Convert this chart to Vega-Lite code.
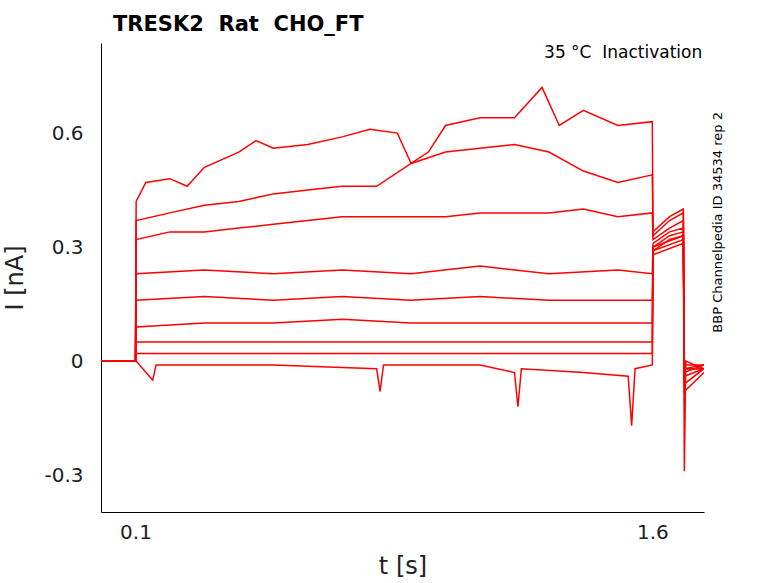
{
  "$schema": "https://vega.github.io/schema/vega-lite/v6.json",
  "width": 603,
  "height": 469,
  "autosize": "none",
  "padding": {"left": 101, "top": 43, "right": 74, "bottom": 71},
  "config": {"font": "DejaVu Sans", "view": {"stroke": null}},
  "title": {"text": "TRESK2\u00a0 Rat\u00a0 CHO_FT", "anchor": "start", "frame": "group", "fontSize": 21, "fontWeight": "bold", "offset": 8, "dx": 12, "color": "black"},
  "data": {"values": [
    {"trace": "a", "t": 0, "i": 0.0}, {"trace": "a", "t": 0.1, "i": 0.0}, {"trace": "a", "t": 0.102, "i": 0.42}, {"trace": "a", "t": 0.13, "i": 0.47}, {"trace": "a", "t": 0.2, "i": 0.48}, {"trace": "a", "t": 0.25, "i": 0.46}, {"trace": "a", "t": 0.3, "i": 0.51}, {"trace": "a", "t": 0.4, "i": 0.55}, {"trace": "a", "t": 0.45, "i": 0.58}, {"trace": "a", "t": 0.5, "i": 0.56}, {"trace": "a", "t": 0.6, "i": 0.57}, {"trace": "a", "t": 0.7, "i": 0.59}, {"trace": "a", "t": 0.78, "i": 0.61}, {"trace": "a", "t": 0.86, "i": 0.6}, {"trace": "a", "t": 0.9, "i": 0.52}, {"trace": "a", "t": 0.95, "i": 0.55}, {"trace": "a", "t": 1.0, "i": 0.62}, {"trace": "a", "t": 1.1, "i": 0.64}, {"trace": "a", "t": 1.2, "i": 0.64}, {"trace": "a", "t": 1.28, "i": 0.72}, {"trace": "a", "t": 1.33, "i": 0.62}, {"trace": "a", "t": 1.4, "i": 0.66}, {"trace": "a", "t": 1.5, "i": 0.62}, {"trace": "a", "t": 1.6, "i": 0.63}, {"trace": "a", "t": 1.602, "i": 0.34}, {"trace": "a", "t": 1.65, "i": 0.38}, {"trace": "a", "t": 1.69, "i": 0.4}, {"trace": "a", "t": 1.693, "i": -0.02}, {"trace": "a", "t": 1.75, "i": -0.02},
    {"trace": "b", "t": 0, "i": 0.0}, {"trace": "b", "t": 0.1, "i": 0.0}, {"trace": "b", "t": 0.102, "i": 0.37}, {"trace": "b", "t": 0.2, "i": 0.39}, {"trace": "b", "t": 0.3, "i": 0.41}, {"trace": "b", "t": 0.4, "i": 0.42}, {"trace": "b", "t": 0.5, "i": 0.44}, {"trace": "b", "t": 0.6, "i": 0.45}, {"trace": "b", "t": 0.7, "i": 0.46}, {"trace": "b", "t": 0.8, "i": 0.46}, {"trace": "b", "t": 0.9, "i": 0.52}, {"trace": "b", "t": 1.0, "i": 0.55}, {"trace": "b", "t": 1.1, "i": 0.56}, {"trace": "b", "t": 1.2, "i": 0.57}, {"trace": "b", "t": 1.3, "i": 0.55}, {"trace": "b", "t": 1.4, "i": 0.5}, {"trace": "b", "t": 1.5, "i": 0.47}, {"trace": "b", "t": 1.6, "i": 0.49}, {"trace": "b", "t": 1.602, "i": 0.33}, {"trace": "b", "t": 1.65, "i": 0.37}, {"trace": "b", "t": 1.69, "i": 0.39}, {"trace": "b", "t": 1.693, "i": -0.01}, {"trace": "b", "t": 1.75, "i": -0.01},
    {"trace": "c", "t": 0, "i": 0.0}, {"trace": "c", "t": 0.1, "i": 0.0}, {"trace": "c", "t": 0.102, "i": 0.32}, {"trace": "c", "t": 0.2, "i": 0.34}, {"trace": "c", "t": 0.3, "i": 0.34}, {"trace": "c", "t": 0.4, "i": 0.35}, {"trace": "c", "t": 0.5, "i": 0.36}, {"trace": "c", "t": 0.6, "i": 0.37}, {"trace": "c", "t": 0.7, "i": 0.38}, {"trace": "c", "t": 0.8, "i": 0.38}, {"trace": "c", "t": 0.9, "i": 0.38}, {"trace": "c", "t": 1.0, "i": 0.38}, {"trace": "c", "t": 1.1, "i": 0.39}, {"trace": "c", "t": 1.2, "i": 0.39}, {"trace": "c", "t": 1.3, "i": 0.39}, {"trace": "c", "t": 1.4, "i": 0.4}, {"trace": "c", "t": 1.5, "i": 0.38}, {"trace": "c", "t": 1.6, "i": 0.39}, {"trace": "c", "t": 1.602, "i": 0.32}, {"trace": "c", "t": 1.65, "i": 0.35}, {"trace": "c", "t": 1.69, "i": 0.37}, {"trace": "c", "t": 1.693, "i": -0.29}, {"trace": "c", "t": 1.697, "i": 0.0}, {"trace": "c", "t": 1.75, "i": -0.02},
    {"trace": "d", "t": 0, "i": 0.0}, {"trace": "d", "t": 0.1, "i": 0.0}, {"trace": "d", "t": 0.102, "i": 0.23}, {"trace": "d", "t": 0.3, "i": 0.24}, {"trace": "d", "t": 0.5, "i": 0.23}, {"trace": "d", "t": 0.7, "i": 0.24}, {"trace": "d", "t": 0.9, "i": 0.23}, {"trace": "d", "t": 1.1, "i": 0.25}, {"trace": "d", "t": 1.3, "i": 0.23}, {"trace": "d", "t": 1.5, "i": 0.24}, {"trace": "d", "t": 1.6, "i": 0.23}, {"trace": "d", "t": 1.602, "i": 0.31}, {"trace": "d", "t": 1.65, "i": 0.34}, {"trace": "d", "t": 1.69, "i": 0.35}, {"trace": "d", "t": 1.693, "i": -0.06}, {"trace": "d", "t": 1.75, "i": -0.02},
    {"trace": "e", "t": 0, "i": 0.0}, {"trace": "e", "t": 0.1, "i": 0.0}, {"trace": "e", "t": 0.102, "i": 0.16}, {"trace": "e", "t": 0.3, "i": 0.17}, {"trace": "e", "t": 0.5, "i": 0.16}, {"trace": "e", "t": 0.7, "i": 0.17}, {"trace": "e", "t": 0.9, "i": 0.16}, {"trace": "e", "t": 1.1, "i": 0.17}, {"trace": "e", "t": 1.3, "i": 0.16}, {"trace": "e", "t": 1.5, "i": 0.16}, {"trace": "e", "t": 1.6, "i": 0.16}, {"trace": "e", "t": 1.602, "i": 0.3}, {"trace": "e", "t": 1.65, "i": 0.33}, {"trace": "e", "t": 1.69, "i": 0.34}, {"trace": "e", "t": 1.693, "i": -0.03}, {"trace": "e", "t": 1.75, "i": -0.01},
    {"trace": "f", "t": 0, "i": 0.0}, {"trace": "f", "t": 0.1, "i": 0.0}, {"trace": "f", "t": 0.102, "i": 0.09}, {"trace": "f", "t": 0.3, "i": 0.1}, {"trace": "f", "t": 0.5, "i": 0.1}, {"trace": "f", "t": 0.7, "i": 0.11}, {"trace": "f", "t": 0.9, "i": 0.1}, {"trace": "f", "t": 1.1, "i": 0.1}, {"trace": "f", "t": 1.3, "i": 0.1}, {"trace": "f", "t": 1.5, "i": 0.1}, {"trace": "f", "t": 1.6, "i": 0.1}, {"trace": "f", "t": 1.602, "i": 0.29}, {"trace": "f", "t": 1.65, "i": 0.32}, {"trace": "f", "t": 1.69, "i": 0.33}, {"trace": "f", "t": 1.693, "i": -0.02}, {"trace": "f", "t": 1.75, "i": -0.02},
    {"trace": "g", "t": 0, "i": 0.0}, {"trace": "g", "t": 0.1, "i": 0.0}, {"trace": "g", "t": 0.102, "i": 0.05}, {"trace": "g", "t": 0.5, "i": 0.05}, {"trace": "g", "t": 1.0, "i": 0.05}, {"trace": "g", "t": 1.6, "i": 0.05}, {"trace": "g", "t": 1.602, "i": 0.3}, {"trace": "g", "t": 1.69, "i": 0.33}, {"trace": "g", "t": 1.693, "i": -0.02}, {"trace": "g", "t": 1.75, "i": -0.01},
    {"trace": "h", "t": 0, "i": 0.0}, {"trace": "h", "t": 0.1, "i": 0.0}, {"trace": "h", "t": 0.102, "i": 0.02}, {"trace": "h", "t": 0.5, "i": 0.02}, {"trace": "h", "t": 1.0, "i": 0.02}, {"trace": "h", "t": 1.6, "i": 0.02}, {"trace": "h", "t": 1.602, "i": 0.29}, {"trace": "h", "t": 1.69, "i": 0.32}, {"trace": "h", "t": 1.693, "i": -0.04}, {"trace": "h", "t": 1.75, "i": -0.02},
    {"trace": "k", "t": 0, "i": 0.0}, {"trace": "k", "t": 0.1, "i": 0.0}, {"trace": "k", "t": 0.102, "i": 0.0}, {"trace": "k", "t": 0.15, "i": -0.05}, {"trace": "k", "t": 0.16, "i": -0.01}, {"trace": "k", "t": 0.5, "i": -0.01}, {"trace": "k", "t": 0.8, "i": -0.02}, {"trace": "k", "t": 0.81, "i": -0.08}, {"trace": "k", "t": 0.82, "i": -0.01}, {"trace": "k", "t": 1.1, "i": -0.01}, {"trace": "k", "t": 1.2, "i": -0.03}, {"trace": "k", "t": 1.21, "i": -0.12}, {"trace": "k", "t": 1.22, "i": -0.02}, {"trace": "k", "t": 1.4, "i": -0.03}, {"trace": "k", "t": 1.53, "i": -0.04}, {"trace": "k", "t": 1.54, "i": -0.17}, {"trace": "k", "t": 1.55, "i": -0.02}, {"trace": "k", "t": 1.6, "i": -0.01}, {"trace": "k", "t": 1.602, "i": 0.28}, {"trace": "k", "t": 1.69, "i": 0.31}, {"trace": "k", "t": 1.693, "i": -0.08}, {"trace": "k", "t": 1.75, "i": -0.03}
  ]},
  "layer": [
    {
      "mark": {"type": "line", "color": "#ff0000", "strokeWidth": 1.5, "clip": true},
      "encoding": {
        "x": {"field": "t", "type": "quantitative", "scale": {"domain": [0, 1.75], "nice": false, "zero": false},
          "axis": {"values": [0.1, 1.6], "title": "t [s]", "grid": false, "labelFontSize": 20, "titleFontSize": 24, "titleFontWeight": "normal", "tickSize": 0, "labelPadding": 10, "titlePadding": 12, "domainColor": "black", "labelColor": "#222", "titleColor": "#222"}},
        "y": {"field": "i", "type": "quantitative", "scale": {"domain": [-0.397, 0.837], "nice": false, "zero": false},
          "axis": {"values": [-0.3, 0, 0.3, 0.6], "labelExpr": "replace(format(datum.value, '~g'), '−', '-')", "title": "I [nA]", "grid": false, "labelFontSize": 20, "titleFontSize": 24, "titleFontWeight": "normal", "tickSize": 0, "labelPadding": 18, "titlePadding": 16, "domainColor": "black", "labelColor": "#222", "titleColor": "#222"}},
        "detail": {"field": "trace"}
      }
    },
    {
      "data": {"values": [{}]},
      "mark": {"type": "text", "text": "35 °C\u00a0 Inactivation", "fontSize": 17, "align": "right", "baseline": "middle", "clip": false},
      "encoding": {"x": {"datum": 1.745}, "y": {"datum": 0.81}}
    },
    {
      "data": {"values": [{}]},
      "mark": {"type": "text", "text": "BBP Channelpedia ID 34534 rep 2", "fontSize": 13, "angle": 270, "align": "center", "baseline": "middle", "clip": false},
      "encoding": {"x": {"datum": 1.79}, "y": {"datum": 0.365}}
    }
  ]
}
